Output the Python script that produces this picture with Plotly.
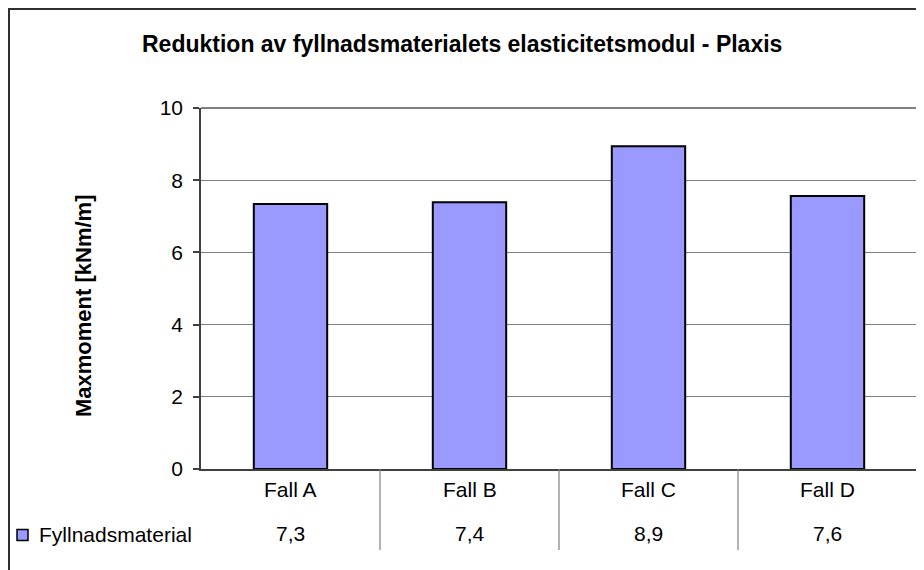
import plotly.graph_objects as go

# Page body has an 8px default margin; figure fills the rest of the 924x570 window.
PAGE_OFF = 8
W, H = 924 - PAGE_OFF, 570 - PAGE_OFF

title_text = "Reduktion av fyllnadsmaterialets elasticitetsmodul - Plaxis"
y_title = "Maxmoment [kNm/m]"
series_name = "Fyllnadsmaterial"
categories = ["Fall A", "Fall B", "Fall C", "Fall D"]
values = [7.34, 7.39, 8.94, 7.56]
y_ticks = [0, 2, 4, 6, 8, 10]

def fx(px):
    return (px - PAGE_OFF) / W

def fy(py):
    return 1 - (py - PAGE_OFF) / H

FONT = "Liberation Sans, Arial, sans-serif"
BAR_FILL = "#9999FF"

fig = go.Figure()
fig.add_trace(go.Bar(
    x=categories, y=values, name=series_name, width=0.41,
    marker=dict(color=BAR_FILL, line=dict(color="black", width=2)),
    showlegend=False,
))

plot_l, plot_r, plot_t, plot_b = 201, 917, 108, 469

fig.update_layout(
    template=None,
    width=W, height=H,
    margin=dict(l=0, r=0, t=0, b=0, autoexpand=False),
    paper_bgcolor="white", plot_bgcolor="white",
    font=dict(family=FONT, size=21, color="black"),
    xaxis=dict(
        domain=[fx(plot_l), fx(plot_r)], automargin=False,
        type="category", range=[-0.5, 3.5],
        showticklabels=False, ticks="", showgrid=False,
        showline=True, linecolor="#404040", linewidth=1.5,
        zeroline=False,
    ),
    yaxis=dict(
        domain=[fy(plot_b), fy(plot_t)], automargin=False,
        range=[0, 10], tickvals=y_ticks,
        ticktext=[str(v) for v in y_ticks],
        ticks="outside", ticklen=6, tickcolor="#404040", tickwidth=1.5,
        ticklabelstandoff=6,
        showgrid=True, gridcolor="#808080", gridwidth=1.2,
        showline=True, linecolor="#404040", linewidth=1.5,
        zeroline=False,
        tickfont=dict(family=FONT, size=21, color="black"),
    ),
    bargap=0.59,
)

shapes = []
# plot area border top & right (gray)
shapes.append(dict(type="line", xref="paper", yref="paper",
                   x0=fx(plot_l), x1=fx(plot_r), y0=fy(plot_t), y1=fy(plot_t),
                   line=dict(color="#808080", width=2)))
shapes.append(dict(type="line", xref="paper", yref="paper",
                   x0=fx(plot_r), x1=fx(plot_r), y0=fy(plot_t), y1=fy(plot_b),
                   line=dict(color="#808080", width=2)))
# data table separators between categories
for i in range(len(categories) - 1):
    shapes.append(dict(type="line", xref="x", yref="paper",
                       x0=i + 0.5, x1=i + 0.5, y0=fy(plot_b), y1=fy(550),
                       line=dict(color="#808080", width=1.2)))
# outer chart border (top & left visible)
shapes.append(dict(type="line", xref="paper", yref="paper",
                   x0=fx(8), x1=1.0, y0=fy(9), y1=fy(9),
                   line=dict(color="#303030", width=2)))
shapes.append(dict(type="line", xref="paper", yref="paper",
                   x0=fx(9), x1=fx(9), y0=fy(9), y1=0,
                   line=dict(color="#303030", width=2)))
# legend key square
shapes.append(dict(type="rect", xref="paper", yref="paper",
                   x0=fx(17), x1=fx(28), y0=fy(529.5), y1=fy(540.5),
                   fillcolor=BAR_FILL, line=dict(color="black", width=1.5)))

annotations = []
annotations.append(dict(text="<b>" + title_text + "</b>", xref="paper", yref="paper",
                        x=fx(462), y=fy(44), xanchor="center", yanchor="middle",
                        showarrow=False, font=dict(family=FONT, size=23, color="black")))
annotations.append(dict(text="<b>" + y_title + "</b>", xref="paper", yref="paper",
                        x=fx(83), y=fy(306), xanchor="center", yanchor="middle",
                        textangle=-90, showarrow=False,
                        font=dict(family=FONT, size=22, color="black")))
for c, v in zip(categories, values):
    annotations.append(dict(text=c, xref="x", yref="paper", x=c, y=fy(489),
                            xanchor="center", yanchor="middle", showarrow=False,
                            font=dict(family=FONT, size=21, color="black")))
    annotations.append(dict(text=f"{v:.1f}".replace(".", ","), xref="x", yref="paper",
                            x=c, y=fy(533), xanchor="center", yanchor="middle",
                            showarrow=False, font=dict(family=FONT, size=21, color="black")))
annotations.append(dict(text=series_name, xref="paper", yref="paper",
                        x=fx(37), y=fy(534), xanchor="left", yanchor="middle",
                        showarrow=False, font=dict(family=FONT, size=21, color="black")))

fig.update_layout(shapes=shapes, annotations=annotations)
fig.write_html("out.html")
